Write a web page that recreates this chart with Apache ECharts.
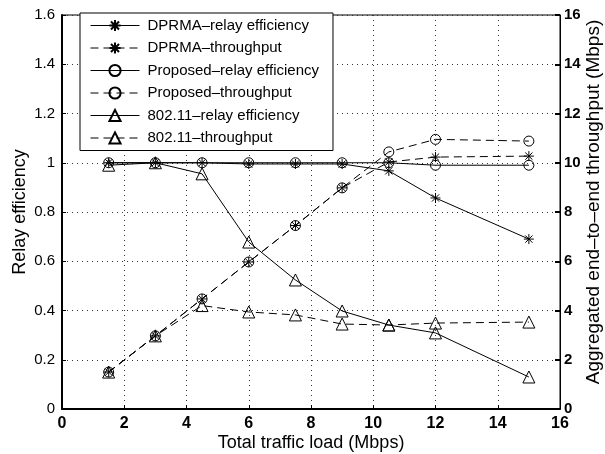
<!DOCTYPE html>
<html>
<head>
<meta charset="utf-8">
<script src="https://cdn.jsdelivr.net/npm/echarts@6/dist/echarts.min.js"></script>
<style>html,body{margin:0;padding:0;background:#fff}#c{width:605px;height:454px}</style>
</head>
<body>
<div id="c"></div>
<script>
var xLoad = [1.5, 3, 4.5, 6, 7.5, 9, 10.5, 12, 15];
var dprmaEff = [1.0, 1.0, 1.0, 0.995, 0.995, 0.995, 0.967, 0.857, 0.69];
var dprmaThr = [1.5, 2.97, 4.47, 5.97, 7.45, 8.98, 10.03, 10.23, 10.27];
var propEff = [1.0, 1.0, 1.0, 1.0, 1.0, 1.0, 1.0, 0.99, 0.99];
var propThr = [1.5, 2.97, 4.47, 5.97, 7.45, 8.98, 10.44, 10.95, 10.88];
var wlanEff = [0.99, 1.0, 0.955, 0.678, 0.524, 0.398, 0.341, 0.309, 0.13];
var wlanThr = [1.5, 2.97, 4.2, 3.94, 3.82, 3.45, 3.41, 3.49, 3.53];
var names = ['DPRMA\u2013relay efficiency', 'DPRMA\u2013throughput', 'Proposed\u2013relay efficiency',
             'Proposed\u2013throughput', '802.11\u2013relay efficiency', '802.11\u2013throughput'];

function pairs(xs, ys) { return xs.map(function (x, i) { return [x, ys[i]]; }); }

var FONT = 'Liberation Sans, Arial, Helvetica, sans-serif';
var star = 'path://M0,-5L0,5M-5,0L5,0M-3.6,-3.6L3.6,3.6M-3.6,3.6L3.6,-3.6';

function mk(name, data, yIdx, dashed, sym, size) {
  return {
    name: name, type: 'line', data: data, yAxisIndex: yIdx,
    symbol: sym, symbolSize: size, showAllSymbol: true,
    lineStyle: { color: '#000', width: 1, type: dashed ? [8, 5] : 'solid' },
    itemStyle: { color: sym === star ? '#000' : 'rgba(0,0,0,0)', borderColor: '#000', borderWidth: 1 },
    emphasis: { disabled: true },
    animation: false, z: 3
  };
}

var chart = echarts.init(document.getElementById('c'));
chart.setOption({
  animation: false,
  grid: { left: 62, right: 45, top: 15, bottom: 45, outerBoundsMode: 'none', containLabel: false,
          show: true, borderColor: '#000', borderWidth: 1, backgroundColor: 'transparent' },
  legend: {
    orient: 'vertical', left: 80, top: 13,
    backgroundColor: '#fff', borderColor: '#000', borderWidth: 1,
    padding: [5, 14, 5, 10], itemWidth: 49, itemHeight: 14, itemGap: 7.5,
    lineStyle: { width: 1 },
    textStyle: { fontFamily: FONT, fontSize: 15, color: '#000', padding: [0, 0, 0, 3] },
    data: names, selectedMode: false
  },
  xAxis: {
    type: 'value', min: 0, max: 16, interval: 2,
    name: 'Total traffic load (Mbps)', nameLocation: 'middle', nameGap: 25, nameMoveOverlap: false,
    nameTextStyle: { fontFamily: FONT, fontSize: 18, color: '#000' },
    axisLine: { lineStyle: { color: '#000', width: 2 } },
    axisTick: { inside: true, length: 4, lineStyle: { color: '#000' } },
    axisLabel: { fontFamily: FONT, fontSize: 16, fontWeight: 'bold', color: '#000', margin: 7 },
    splitLine: { show: true, lineStyle: { color: '#333', type: [1, 4], width: 1 } }
  },
  yAxis: [{
    type: 'value', min: 0, max: 1.6, interval: 0.2, position: 'left',
    name: 'Relay efficiency', nameLocation: 'middle', nameGap: 33, nameRotate: 90, nameMoveOverlap: false,
    nameTextStyle: { fontFamily: FONT, fontSize: 18, color: '#000' },
    axisLine: { show: true, lineStyle: { color: '#000', width: 2 } },
    axisTick: { show: true, inside: true, length: 4, lineStyle: { color: '#000' } },
    axisLabel: { fontFamily: FONT, fontSize: 15, color: '#000', margin: 7 },
    splitLine: { show: true, lineStyle: { color: '#333', type: [1, 4], width: 1 } }
  }, {
    type: 'value', min: 0, max: 16, interval: 2, position: 'right',
    name: 'Aggregated end\u2013to\u2013end throughput (Mbps)', nameLocation: 'middle', nameGap: 24, nameRotate: 90, nameMoveOverlap: false,
    nameTextStyle: { fontFamily: FONT, fontSize: 19, color: '#000', padding: [0, 0, 0, 20] },
    axisLine: { show: true, lineStyle: { color: '#000', width: 1 } },
    axisTick: { show: true, inside: true, length: 5, lineStyle: { color: '#000', width: 2 } },
    axisLabel: { fontFamily: FONT, fontSize: 15, fontWeight: 'bold', color: '#000', margin: 4 },
    splitLine: { show: false }
  }],
  series: [
    mk(names[0], pairs(xLoad, dprmaEff), 0, false, star, 10),
    mk(names[1], pairs(xLoad, dprmaThr), 1, true, star, 10),
    mk(names[2], pairs(xLoad, propEff), 0, false, 'circle', 10),
    mk(names[3], pairs(xLoad, propThr), 1, true, 'circle', 10),
    mk(names[4], pairs(xLoad, wlanEff), 0, false, 'triangle', 12),
    mk(names[5], pairs(xLoad, wlanThr), 1, true, 'triangle', 12)
  ]
});
</script>
</body>
</html>
